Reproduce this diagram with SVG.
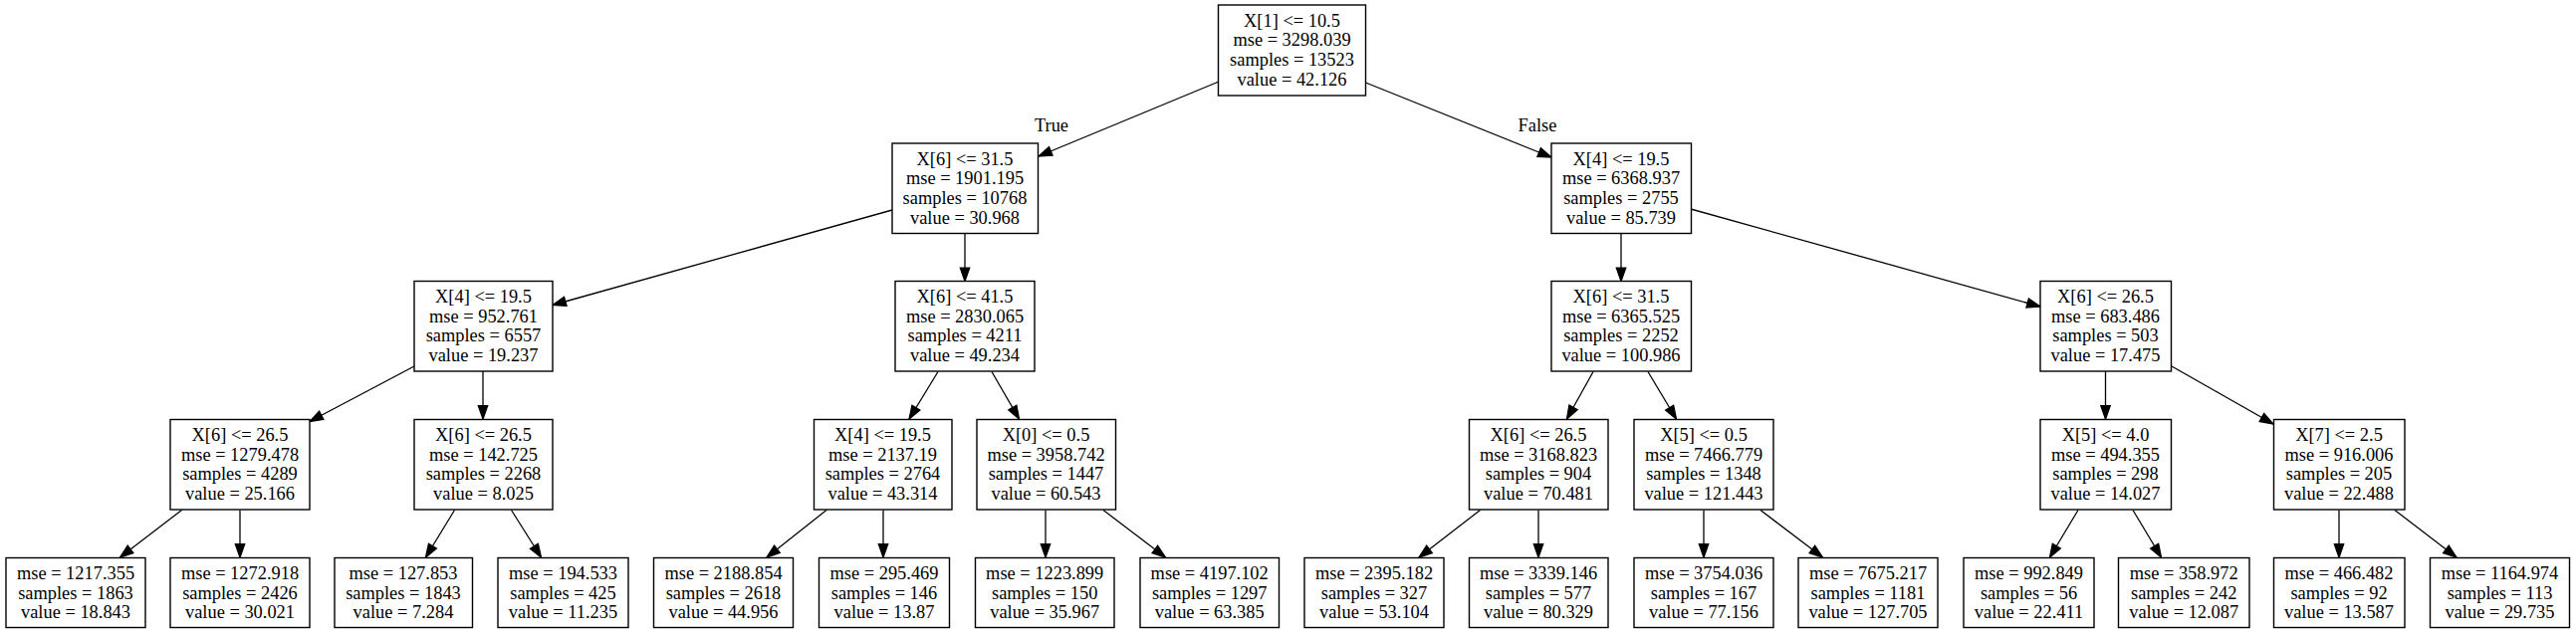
<svg xmlns="http://www.w3.org/2000/svg" width="2587" height="637" viewBox="0 0 2587 637">
<style>
rect.n{fill:#fff;stroke:#000;stroke-width:1.4}
text{font-family:"Liberation Serif","Times New Roman",serif;font-size:18.4px;text-anchor:middle;fill:#000}
line.e{stroke:#000;stroke-width:1.3;marker-end:url(#ah)}
</style>
<defs>
<marker id="ah" markerUnits="userSpaceOnUse" markerWidth="16" markerHeight="12" refX="13.3" refY="6" orient="auto" overflow="visible">
<path d="M0,1.33 L13.3,6 L0,10.67 z" fill="#000" stroke="#000" stroke-width="1.3"/>
</marker>
</defs>
<rect width="2587" height="637" fill="#fff"/>
<g id="edges">
<line class="e" x1="1224" y1="82" x2="1043" y2="157"/>
<line class="e" x1="1371.5" y1="83" x2="1558" y2="158"/>
<line class="e" x1="896" y1="211" x2="555" y2="306.5"/>
<line class="e" x1="969" y1="234" x2="969" y2="282.5"/>
<line class="e" x1="1628" y1="234" x2="1628" y2="282.5"/>
<line class="e" x1="1698" y1="210" x2="2049" y2="308"/>
<line class="e" x1="416" y1="368" x2="311" y2="423.5"/>
<line class="e" x1="485" y1="373" x2="485" y2="421"/>
<line class="e" x1="942" y1="373.5" x2="913" y2="421"/>
<line class="e" x1="996" y1="373.5" x2="1023.5" y2="421"/>
<line class="e" x1="1600" y1="373.5" x2="1573.5" y2="421"/>
<line class="e" x1="1655" y1="373.5" x2="1683.5" y2="421"/>
<line class="e" x1="2114.5" y1="373" x2="2114.5" y2="421"/>
<line class="e" x1="2181" y1="368" x2="2283" y2="426"/>
<line class="e" x1="182.5" y1="512.5" x2="120.5" y2="560"/>
<line class="e" x1="241" y1="512.5" x2="241" y2="560"/>
<line class="e" x1="456.5" y1="512.5" x2="427.5" y2="560"/>
<line class="e" x1="513.5" y1="512.5" x2="543.5" y2="560"/>
<line class="e" x1="830" y1="512.5" x2="770" y2="560"/>
<line class="e" x1="887" y1="512.5" x2="887" y2="560"/>
<line class="e" x1="1050" y1="512.5" x2="1050" y2="560"/>
<line class="e" x1="1108" y1="512.5" x2="1170.5" y2="560"/>
<line class="e" x1="1486.5" y1="512.5" x2="1425" y2="560"/>
<line class="e" x1="1545" y1="512.5" x2="1545" y2="560"/>
<line class="e" x1="1711" y1="512.5" x2="1711" y2="560"/>
<line class="e" x1="1768" y1="512.5" x2="1830.5" y2="560"/>
<line class="e" x1="2087" y1="512.5" x2="2058.5" y2="560"/>
<line class="e" x1="2142" y1="512.5" x2="2170.5" y2="560"/>
<line class="e" x1="2349" y1="512.5" x2="2349" y2="560"/>
<line class="e" x1="2405" y1="512.5" x2="2467" y2="560"/>
<text x="1056" y="131.7">True</text>
<text x="1544" y="131.7">False</text>
</g>
<g id="n0"><rect class="n" x="1223.5" y="5" width="148" height="91"/><text x="1297.5" y="26.5">X[1] &lt;= 10.5</text><text x="1297.5" y="46.2">mse = 3298.039</text><text x="1297.5" y="65.9">samples = 13523</text><text x="1297.5" y="85.6">value = 42.126</text></g>
<g id="n1"><rect class="n" x="896" y="144" width="146.5" height="90.5"/><text x="969" y="165.5">X[6] &lt;= 31.5</text><text x="969" y="185.2">mse = 1901.195</text><text x="969" y="204.9">samples = 10768</text><text x="969" y="224.6">value = 30.968</text></g>
<g id="n2"><rect class="n" x="1558" y="144" width="140.5" height="90.5"/><text x="1628" y="165.5">X[4] &lt;= 19.5</text><text x="1628" y="185.2">mse = 6368.937</text><text x="1628" y="204.9">samples = 2755</text><text x="1628" y="224.6">value = 85.739</text></g>
<g id="n3"><rect class="n" x="416" y="282.5" width="139" height="90.5"/><text x="485.5" y="304">X[4] &lt;= 19.5</text><text x="485.5" y="323.7">mse = 952.761</text><text x="485.5" y="343.4">samples = 6557</text><text x="485.5" y="363.1">value = 19.237</text></g>
<g id="n4"><rect class="n" x="899" y="282.5" width="140" height="90.5"/><text x="969" y="304">X[6] &lt;= 41.5</text><text x="969" y="323.7">mse = 2830.065</text><text x="969" y="343.4">samples = 4211</text><text x="969" y="363.1">value = 49.234</text></g>
<g id="n5"><rect class="n" x="1558" y="282.5" width="140.5" height="90.5"/><text x="1628" y="304">X[6] &lt;= 31.5</text><text x="1628" y="323.7">mse = 6365.525</text><text x="1628" y="343.4">samples = 2252</text><text x="1628" y="363.1">value = 100.986</text></g>
<g id="n6"><rect class="n" x="2049" y="282.5" width="131.5" height="90.5"/><text x="2114.5" y="304">X[6] &lt;= 26.5</text><text x="2114.5" y="323.7">mse = 683.486</text><text x="2114.5" y="343.4">samples = 503</text><text x="2114.5" y="363.1">value = 17.475</text></g>
<g id="n7"><rect class="n" x="171" y="421.5" width="140" height="90.5"/><text x="241" y="443">X[6] &lt;= 26.5</text><text x="241" y="462.7">mse = 1279.478</text><text x="241" y="482.4">samples = 4289</text><text x="241" y="502.1">value = 25.166</text></g>
<g id="n8"><rect class="n" x="416" y="421.5" width="139" height="90.5"/><text x="485.5" y="443">X[6] &lt;= 26.5</text><text x="485.5" y="462.7">mse = 142.725</text><text x="485.5" y="482.4">samples = 2268</text><text x="485.5" y="502.1">value = 8.025</text></g>
<g id="n9"><rect class="n" x="817.5" y="421.5" width="138.5" height="90.5"/><text x="886.5" y="443">X[4] &lt;= 19.5</text><text x="886.5" y="462.7">mse = 2137.19</text><text x="886.5" y="482.4">samples = 2764</text><text x="886.5" y="502.1">value = 43.314</text></g>
<g id="n10"><rect class="n" x="981" y="421.5" width="139.5" height="90.5"/><text x="1050.5" y="443">X[0] &lt;= 0.5</text><text x="1050.5" y="462.7">mse = 3958.742</text><text x="1050.5" y="482.4">samples = 1447</text><text x="1050.5" y="502.1">value = 60.543</text></g>
<g id="n11"><rect class="n" x="1475.5" y="421.5" width="139.5" height="90.5"/><text x="1545" y="443">X[6] &lt;= 26.5</text><text x="1545" y="462.7">mse = 3168.823</text><text x="1545" y="482.4">samples = 904</text><text x="1545" y="502.1">value = 70.481</text></g>
<g id="n12"><rect class="n" x="1641" y="421.5" width="140" height="90.5"/><text x="1711" y="443">X[5] &lt;= 0.5</text><text x="1711" y="462.7">mse = 7466.779</text><text x="1711" y="482.4">samples = 1348</text><text x="1711" y="502.1">value = 121.443</text></g>
<g id="n13"><rect class="n" x="2049" y="421.5" width="131.5" height="90.5"/><text x="2114.5" y="443">X[5] &lt;= 4.0</text><text x="2114.5" y="462.7">mse = 494.355</text><text x="2114.5" y="482.4">samples = 298</text><text x="2114.5" y="502.1">value = 14.027</text></g>
<g id="n14"><rect class="n" x="2283.5" y="421.5" width="131.5" height="90.5"/><text x="2349" y="443">X[7] &lt;= 2.5</text><text x="2349" y="462.7">mse = 916.006</text><text x="2349" y="482.4">samples = 205</text><text x="2349" y="502.1">value = 22.488</text></g>
<g id="n15"><rect class="n" x="6" y="560.5" width="140" height="70"/><text x="76" y="581.8">mse = 1217.355</text><text x="76" y="601.5">samples = 1863</text><text x="76" y="621.2">value = 18.843</text></g>
<g id="n16"><rect class="n" x="171" y="560.5" width="140" height="70"/><text x="241" y="581.8">mse = 1272.918</text><text x="241" y="601.5">samples = 2426</text><text x="241" y="621.2">value = 30.021</text></g>
<g id="n17"><rect class="n" x="336" y="560.5" width="138.5" height="70"/><text x="405" y="581.8">mse = 127.853</text><text x="405" y="601.5">samples = 1843</text><text x="405" y="621.2">value = 7.284</text></g>
<g id="n18"><rect class="n" x="500" y="560.5" width="131" height="70"/><text x="565.5" y="581.8">mse = 194.533</text><text x="565.5" y="601.5">samples = 425</text><text x="565.5" y="621.2">value = 11.235</text></g>
<g id="n19"><rect class="n" x="656.5" y="560.5" width="140" height="70"/><text x="726.5" y="581.8">mse = 2188.854</text><text x="726.5" y="601.5">samples = 2618</text><text x="726.5" y="621.2">value = 44.956</text></g>
<g id="n20"><rect class="n" x="822.5" y="560.5" width="131" height="70"/><text x="888" y="581.8">mse = 295.469</text><text x="888" y="601.5">samples = 146</text><text x="888" y="621.2">value = 13.87</text></g>
<g id="n21"><rect class="n" x="979.5" y="560.5" width="139.5" height="70"/><text x="1049.2" y="581.8">mse = 1223.899</text><text x="1049.2" y="601.5">samples = 150</text><text x="1049.2" y="621.2">value = 35.967</text></g>
<g id="n22"><rect class="n" x="1145" y="560.5" width="139.5" height="70"/><text x="1214.7" y="581.8">mse = 4197.102</text><text x="1214.7" y="601.5">samples = 1297</text><text x="1214.7" y="621.2">value = 63.385</text></g>
<g id="n23"><rect class="n" x="1310" y="560.5" width="140" height="70"/><text x="1380" y="581.8">mse = 2395.182</text><text x="1380" y="601.5">samples = 327</text><text x="1380" y="621.2">value = 53.104</text></g>
<g id="n24"><rect class="n" x="1475.5" y="560.5" width="139.5" height="70"/><text x="1545" y="581.8">mse = 3339.146</text><text x="1545" y="601.5">samples = 577</text><text x="1545" y="621.2">value = 80.329</text></g>
<g id="n25"><rect class="n" x="1641" y="560.5" width="140" height="70"/><text x="1711" y="581.8">mse = 3754.036</text><text x="1711" y="601.5">samples = 167</text><text x="1711" y="621.2">value = 77.156</text></g>
<g id="n26"><rect class="n" x="1806" y="560.5" width="140" height="70"/><text x="1876" y="581.8">mse = 7675.217</text><text x="1876" y="601.5">samples = 1181</text><text x="1876" y="621.2">value = 127.705</text></g>
<g id="n27"><rect class="n" x="1972" y="560.5" width="131" height="70"/><text x="2037.5" y="581.8">mse = 992.849</text><text x="2037.5" y="601.5">samples = 56</text><text x="2037.5" y="621.2">value = 22.411</text></g>
<g id="n28"><rect class="n" x="2127.5" y="560.5" width="131.5" height="70"/><text x="2193.2" y="581.8">mse = 358.972</text><text x="2193.2" y="601.5">samples = 242</text><text x="2193.2" y="621.2">value = 12.087</text></g>
<g id="n29"><rect class="n" x="2283.5" y="560.5" width="131.5" height="70"/><text x="2349" y="581.8">mse = 466.482</text><text x="2349" y="601.5">samples = 92</text><text x="2349" y="621.2">value = 13.587</text></g>
<g id="n30"><rect class="n" x="2440.5" y="560.5" width="140" height="70"/><text x="2510.5" y="581.8">mse = 1164.974</text><text x="2510.5" y="601.5">samples = 113</text><text x="2510.5" y="621.2">value = 29.735</text></g>
</svg>
